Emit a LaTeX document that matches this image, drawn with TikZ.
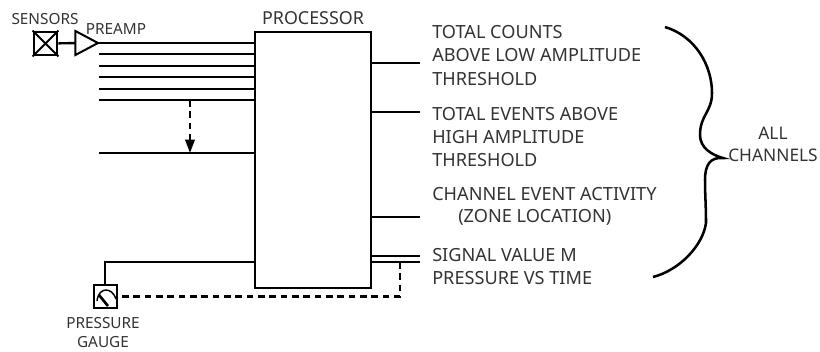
\documentclass[tikz,border=0pt]{standalone}
\usepackage{fontspec}
\setmainfont{Noto Sans}
\usetikzlibrary{shapes.geometric,arrows.meta}
\tikzset{
	wire/.style={line width=1.8pt},
	dashwire/.style={line width=1.8pt,dash pattern=on 5pt off 3.5pt},
	box/.style={draw,line width=1.9pt,minimum size=17.5pt,inner sep=0pt},
	lbl/.style={inner sep=0pt,font=\fontsize{13.6}{15}\selectfont,text=black!80,anchor=west},
	caption/.style={inner sep=0pt,font=\fontsize{11.5}{13}\selectfont,text=black!80,align=center}
}
\begin{document}
\begin{tikzpicture}[x=0.75pt,y=-0.75pt]
	\useasboundingbox (0,0) rectangle (820,351);

	% processor
	\node [draw,line width=1.9pt,minimum width=87pt,minimum height=192pt,inner sep=0pt] (proc) at (313,160) {};
	\node [caption,font=\fontsize{13.4}{15}\selectfont] (proclabel) at (313,18) {PROCESSOR};

	% sensor with preamp
	\node [box] (sensor) at (45.5,43.5) {};
	\draw [line width=1.5pt] (sensor.north west) -- (sensor.south east) (sensor.north east) -- (sensor.south west);
	\node [draw,line width=1.5pt,isosceles triangle,isosceles triangle apex angle=56,minimum height=17pt,inner sep=0pt,outer sep=0pt,anchor=apex] (preamp) at (98,43) {};
	\node [caption] (sensorlabel) at (45,19) {SENSORS};
	\node [caption] (preamplabel) at (116,29) {PREAMP};
	\draw [wire] (sensor) -- (preamp);

	% inputs
	\coordinate (in2) at (99,54);
	\coordinate (in3) at (99,66);
	\coordinate (in4) at (99,77);
	\coordinate (in5) at (99,89);
	\coordinate (in6) at (99,100);
	\coordinate (in7) at (99,153);
	\draw [wire] (preamp.apex) -- (preamp.apex -| proc.west);
	\draw [wire] (in2) -- (in2 -| proc.west);
	\draw [wire] (in3) -- (in3 -| proc.west);
	\draw [wire] (in4) -- (in4 -| proc.west);
	\draw [wire] (in5) -- (in5 -| proc.west);
	\draw [wire] (in6) -- (in6 -| proc.west);
	\draw [wire] (in7) -- (in7 -| proc.west);

	% dashed arrow between inputs
	\coordinate (dashtop) at (190,100);
	\draw [dashwire,-{Triangle[length=10pt,width=7pt]}] (dashtop) -- (dashtop |- in7);

	% pressure gauge
	\node [box] (gauge) at (105.5,296.5) {};
	\draw [line width=1.1pt] (97,301) .. controls (98,293) and (102,290) .. (106,290) .. controls (110,290) and (114,293) .. (116,299);
	\draw [line width=2pt] (99,295) -- (108,306);
	\coordinate (gaugein) at (105,262);
	\draw [wire] (gauge.north -| gaugein) -- (gaugein) -- (gaugein -| proc.west);
	\node [caption] (gaugelabel) at (103,332.5) {PRESSURE\\[1.5pt]GAUGE};

	% outputs
	\coordinate (out1) at (420,63);
	\coordinate (out2) at (420,112);
	\coordinate (out3) at (420,217);
	\coordinate (out4) at (420,256);
	\coordinate (out5) at (420,262);
	\draw [wire] (out1 -| proc.east) -- (out1);
	\draw [wire] (out2 -| proc.east) -- (out2);
	\draw [wire] (out3 -| proc.east) -- (out3);
	\draw [wire] (out4 -| proc.east) -- (out4);
	\draw [wire] (out5 -| proc.east) -- (out5);

	% feedback to gauge
	\coordinate (feed) at (400,262);
	\draw [dashwire] (feed) -- (feed |- gauge.east) -- (gauge.east);

	% output labels
	\node [lbl] (t1) at (432,32) {TOTAL COUNTS};
	\node [lbl] (t2) at (432,55) {ABOVE LOW AMPLITUDE};
	\node [lbl] (t3) at (432,79) {THRESHOLD};
	\node [lbl] (t4) at (432,114) {TOTAL EVENTS ABOVE};
	\node [lbl] (t5) at (432,137) {HIGH AMPLITUDE};
	\node [lbl] (t6) at (432,160) {THRESHOLD};
	\node [lbl] (t7) at (432,194) {CHANNEL EVENT ACTIVITY};
	\node [lbl] (t8) at (458,217) {(ZONE LOCATION)};
	\node [lbl] (t9) at (432,255) {SIGNAL VALUE M};
	\node [lbl] (t10) at (432,278) {PRESSURE VS TIME};

	% brace
	\coordinate (bracetip) at (723,158);
	\draw [line width=1.9pt] (665,27) .. controls (695,36) and (712,65) .. (712,93)
		.. controls (712,112) and (700,115) .. (700,135)
		.. controls (700,148) and (712,155) .. (bracetip)
		.. controls (710,157) and (705,165) .. (705,180)
		.. controls (705,195) and (706,205) .. (706,223)
		.. controls (703,245) and (680,270) .. (653,277);
	\node [caption,font=\fontsize{13}{15}\selectfont] (alllabel) at (773,144) {ALL\\[1.5pt]CHANNELS};
\end{tikzpicture}
\end{document}
